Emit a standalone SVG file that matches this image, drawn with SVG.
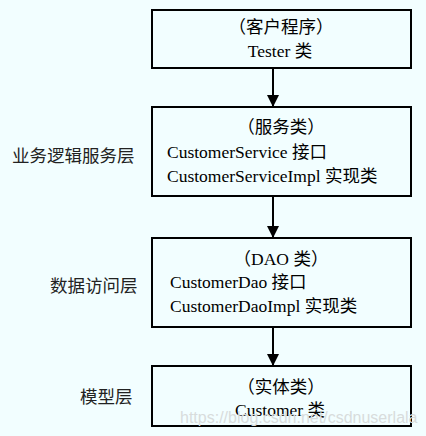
<svg xmlns="http://www.w3.org/2000/svg" width="426" height="436" viewBox="0 0 426 436">
<style>
.box{fill:#F2FEFF;stroke:#000;stroke-width:2}
.t{font-family:"Liberation Serif","Noto Sans CJK SC",serif;font-size:17.5px;fill:#000}
.c{text-anchor:middle}
.lbl{font-family:"Liberation Serif","Noto Sans CJK SC",serif;font-size:17.5px;fill:#222}
.wm{font-family:"Liberation Sans",sans-serif;font-size:16px;fill:#d8dcdc}
.ln{stroke:#000;stroke-width:2;fill:none}
</style>
<defs>
<marker id="ah" viewBox="0 0 12 12" refX="12" refY="6" markerWidth="12" markerHeight="12" markerUnits="userSpaceOnUse" orient="auto">
<path d="M0,0 L12,6 L0,12 z" fill="#000"/>
</marker>
</defs>
<rect width="426" height="436" fill="#F2FEFF"/>
<g id="connectors">
<line class="ln" x1="273" y1="68" x2="273" y2="107" marker-end="url(#ah)"/>
<line class="ln" x1="273" y1="196" x2="273" y2="238" marker-end="url(#ah)"/>
<line class="ln" x1="273" y1="327" x2="273" y2="366" marker-end="url(#ah)"/>
</g>
<g id="client">
<rect class="box" x="152" y="10" width="259" height="58"/>
<text class="t c" x="281" y="33">（客户程序）</text>
<text class="t c" x="280" y="57">Tester 类</text>
</g>
<g id="service">
<rect class="box" x="152" y="107" width="259" height="89"/>
<text class="t c" x="281" y="133">（服务类）</text>
<text class="t" x="167" y="158">CustomerService 接口</text>
<text class="t" x="167" y="182">CustomerServiceImpl 实现类</text>
</g>
<g id="dao">
<rect class="box" x="152" y="238" width="259" height="89"/>
<text class="t c" x="281" y="265">（DAO 类）</text>
<text class="t" x="170" y="288">CustomerDao 接口</text>
<text class="t" x="170" y="312">CustomerDaoImpl 实现类</text>
</g>
<g id="model">
<rect class="box" x="152" y="366" width="259" height="60"/>
<text class="t c" x="281" y="393">（实体类）</text>
<text class="t c" x="280" y="416">Customer 类</text>
</g>
<g id="labels">
<text class="lbl" x="12" y="162">业务逻辑服务层</text>
<text class="lbl" x="50" y="292">数据访问层</text>
<text class="lbl" x="80" y="403">模型层</text>
</g>
<text class="wm" x="180" y="423">https://blog.csdn.net/csdnuserlala</text>
</svg>
